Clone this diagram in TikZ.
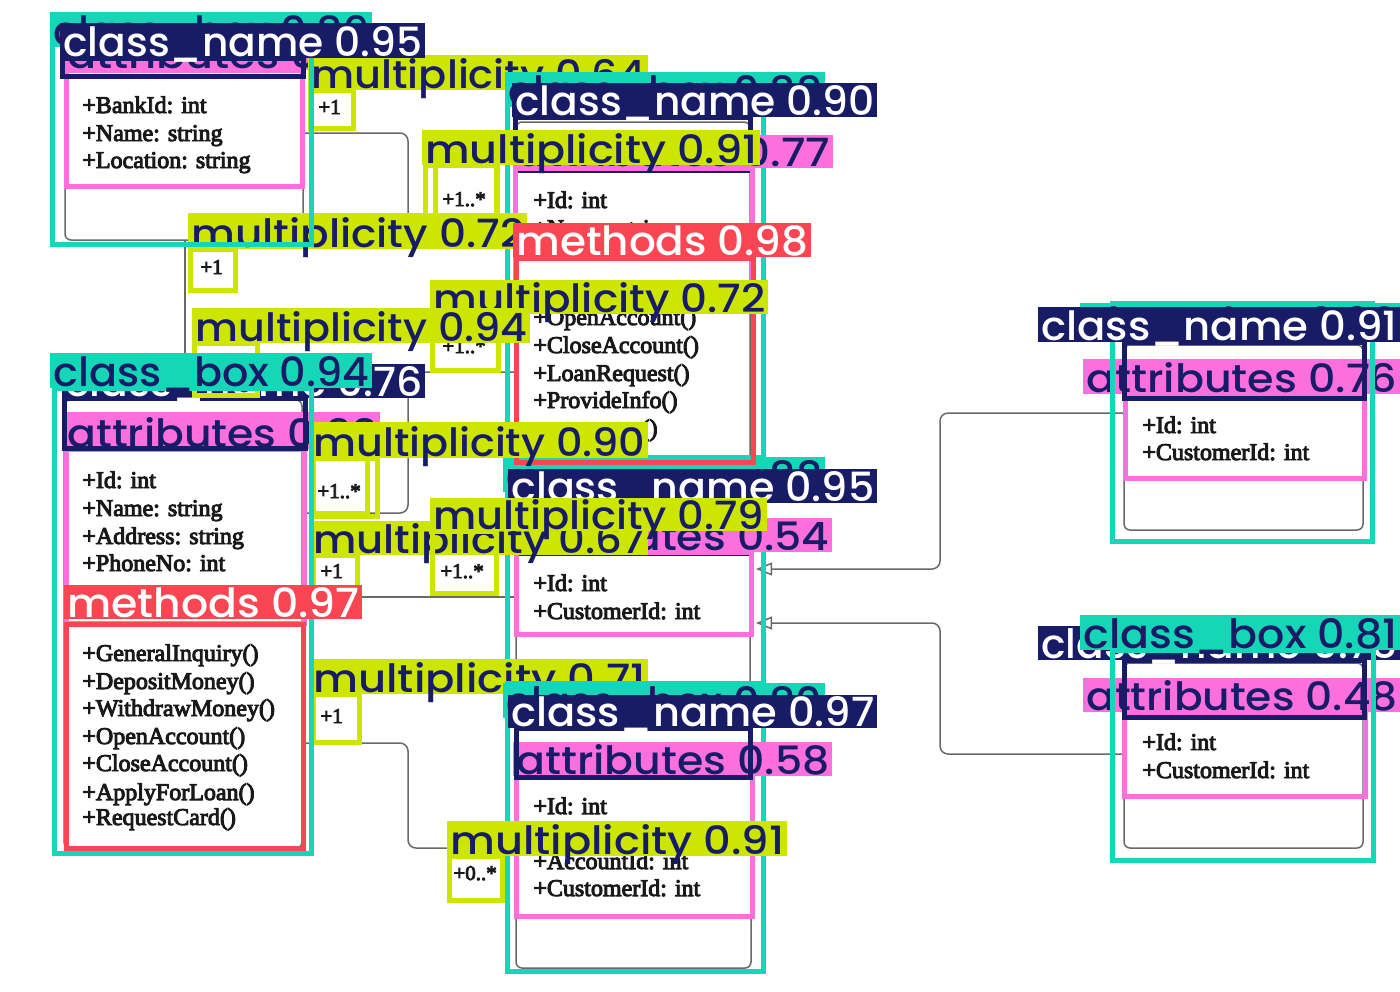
\documentclass[tikz,border=0pt]{standalone}
\usepackage{fontspec}
\usepackage{graphicx}
\usetikzlibrary{arrows.meta}
\IfFontExistsTF{Poppins Medium}{\newfontfamily\labfont{Poppins Medium}}{\newfontfamily\labfont{Poppins}[FakeBold=3]}
\newfontfamily\umlfont{Liberation Serif}[FakeBold=4]
\definecolor{cteal}{RGB}{22,214,184}
\definecolor{cnavy}{RGB}{24,28,102}
\definecolor{cpink}{RGB}{252,112,222}
\definecolor{cred}{RGB}{250,70,82}
\definecolor{cyel}{RGB}{204,230,0}
\definecolor{umlgray}{RGB}{105,105,105}
\definecolor{umltext}{RGB}{25,25,25}
\tikzset{
  umlbox/.style={draw=umlgray, line width=0.75pt, rounded corners=3pt},
  conn/.style={draw=umlgray, line width=0.75pt, rounded corners=4pt},
  utext/.style={anchor=base west, inner sep=0pt, text=umltext, font=\umlfont\fontsize{12pt}{14pt}\selectfont},
  mtext/.style={anchor=base west, inner sep=0pt, text=umltext, font=\umlfont\fontsize{10.5pt}{12pt}\selectfont},
  inh/.style={conn, -{Triangle[open, length=8pt, width=6.5pt]}},
}
\newcommand\detbox[5]{\draw[line width=2.5pt,#1] (#2,#3) rectangle (#4,#5);}
\newcommand\detlab[8]{%
  \fill[#2] (#4,#5) rectangle (#6,#7);
  \node[anchor=base west,inner sep=0pt,text=#3] (#1) at ({#4+3},{#7-2})
    {\resizebox{\dimexpr(#6pt-#4pt-6pt)/2\relax}{15pt}{\labfont #8}};%
}
\begin{document}
\begin{tikzpicture}[x=0.5pt,y=-0.5pt]
\useasboundingbox (0,0) rectangle (1400,991);
\fill[white] (0,0) rectangle (1400,991);

% ---------------- UML diagram ----------------
\draw[umlbox] (65,30) rectangle (303,240);
\draw[umlbox] (516,122) rectangle (750,462);
\draw[umlbox] (64,400) rectangle (302,848);
\draw[umlbox] (516,505) rectangle (750,690);
\draw[umlbox] (516,725) rectangle (751,968);
\draw[umlbox] (1124,345) rectangle (1363,530);
\draw[umlbox] (1124,663) rectangle (1363,848);

% connector end points
\coordinate (bankE) at (303,133);
\coordinate (bankS) at (185,240);
\coordinate (custN) at (185,400);
\coordinate (acctW1) at (516,232);
\coordinate (acctW2) at (516,372);
\coordinate (custE1) at (302,513);
\coordinate (custE2) at (302,597);
\coordinate (custE3) at (302,743);
\coordinate (loanW) at (516,597);
\coordinate (transW) at (516,848);
\coordinate (loanE1) at (756,569);
\coordinate (loanE2) at (756,623);
\coordinate (rtW) at (1124,413);
\coordinate (rbW) at (1124,754);

\draw[conn] (bankE) -- (408,133) -- (408,232) -- (acctW1);
\draw[conn] (bankS) -- (custN);
\draw[conn] (custE1) -- (408,513) -- (408,372) -- (acctW2);
\draw[conn] (custE2) -- (loanW);
\draw[conn] (custE3) -- (408,743) -- (408,848) -- (transW);
\draw[inh] (rtW) -- (940,413) -- (940,569) -- (loanE1);
\draw[inh] (rbW) -- (940,754) -- (940,623) -- (loanE2);

% class texts
\node[utext] (b1) at (82,113) {+BankId: int};
\node[utext] (b2) at (82,141) {+Name: string};
\node[utext] (b3) at (82,168) {+Location: string};

\node[utext] (a1) at (533,208) {+Id: int};
\node[utext] (a2) at (533,236) {+Name: string};
\node[utext] (a3) at (533,325) {+OpenAccount()};
\node[utext] (a4) at (533,353) {+CloseAccount()};
\node[utext] (a5) at (533,381) {+LoanRequest()};
\node[utext] (a6) at (533,408) {+ProvideInfo()};
\node[utext, anchor=base east] (a7) at (658,436) {()};

\node[utext] (c1) at (82,488) {+Id: int};
\node[utext] (c2) at (82,516) {+Name: string};
\node[utext] (c3) at (82,544) {+Address: string};
\node[utext] (c4) at (82,571) {+PhoneNo: int};
\node[utext] (c5) at (82,661) {+GeneralInquiry()};
\node[utext] (c6) at (82,689) {+DepositMoney()};
\node[utext] (c7) at (82,716) {+WithdrawMoney()};
\node[utext] (c8) at (82,744) {+OpenAccount()};
\node[utext] (c9) at (82,771) {+CloseAccount()};
\node[utext] (c10) at (82,800) {+ApplyForLoan()};
\node[utext] (c11) at (82,825) {+RequestCard()};

\node[utext] (l1) at (533,591) {+Id: int};
\node[utext] (l2) at (533,619) {+CustomerId: int};

\node[utext] (t1) at (533,814) {+Id: int};
\node[utext] (t2) at (533,869) {+AccountId: int};
\node[utext] (t3) at (533,896) {+CustomerId: int};

\node[utext] (r1) at (1142,433) {+Id: int};
\node[utext] (r2) at (1142,460) {+CustomerId: int};
\node[utext] (s1) at (1142,750) {+Id: int};
\node[utext] (s2) at (1142,778) {+CustomerId: int};

% multiplicities
\node[mtext] (m1) at (318,114) {+1};
\node[mtext] (m2) at (442,206) {+1..*};
\node[mtext] (m3) at (200,274) {+1};
\node[mtext] (m4) at (442,353) {+1..*};
\node[mtext] (m5) at (317,498) {+1..*};
\node[mtext] (m6) at (320,578) {+1};
\node[mtext] (m7) at (440,578) {+1..*};
\node[mtext] (m8) at (320,723) {+1};
\node[mtext] (m9) at (453,880) {+0..*};

% ---------------- detection overlay ----------------
\detbox{cpink}{66}{70}{302}{186}
\detlab{L1}{cpink}{cnavy}{64}{35}{383}{70}{attributes 0.87}
\detbox{cteal}{507}{457}{763}{690}
\detlab{L2}{cteal}{cnavy}{503}{457}{825}{492}{class\_box 0.88}
\detbox{cyel}{310}{90}{353}{128}
\detlab{L3}{cyel}{cnavy}{308}{55}{648}{90}{multiplicity 0.64}
\detbox{cteal}{507}{74}{763}{466}
\detlab{L4}{cteal}{cnavy}{505}{72}{825}{107}{class\_box 0.88}
\detbox{cnavy}{515}{117}{750}{170}
\detlab{L5}{cnavy}{white}{512}{83}{877}{117}{class\_name 0.90}
\detbox{cpink}{515}{168}{752}{300}
\detlab{L6}{cpink}{cnavy}{513}{135}{833}{168}{attributes 0.77}
\detbox{cyel}{435}{165}{497}{228}
\detbox{cyel}{425}{165}{496}{230}
\detlab{L7}{cyel}{cnavy}{422}{130}{760}{165}{multiplicity 0.91}
\detbox{cyel}{190}{249}{235}{290}
\detlab{L8}{cyel}{cnavy}{188}{213}{527}{249}{multiplicity 0.72}
\detbox{cteal}{52}{14}{311}{244}
\detlab{L9}{cteal}{cnavy}{50}{12}{372}{47}{class\_box 0.89}
\detbox{cnavy}{62}{58}{303}{76}
\detlab{L10}{cnavy}{white}{60}{23}{425}{58}{class\_name 0.95}
\detbox{cred}{516}{258}{753}{462}
\detlab{L11}{cred}{white}{513}{223}{811}{257}{methods 0.98}
\detbox{cyel}{432}{314}{498}{370}
\detlab{L12}{cyel}{cnavy}{430}{280}{768}{314}{multiplicity 0.72}
\detbox{cpink}{66}{449}{304}{623}
\detlab{L13}{cpink}{cnavy}{64}{412}{380}{449}{attributes 0.93}
\detbox{cnavy}{64}{398}{305}{448}
\detlab{L14}{cnavy}{white}{62}{364}{425}{398}{class\_name 0.76}
\detbox{cyel}{194}{343}{257}{395}
\detlab{L15}{cyel}{cnavy}{192}{308}{530}{343}{multiplicity 0.94}
\detbox{cyel}{313}{458}{377}{516}
\detbox{cyel}{313}{458}{367}{513}
\detlab{L16}{cyel}{cnavy}{310}{422}{648}{458}{multiplicity 0.90}
\detbox{cnavy}{516}{503}{750}{553}
\detlab{L17}{cnavy}{white}{508}{469}{877}{503}{class\_name 0.95}
\detbox{cpink}{516}{552}{751}{634}
\detlab{L18}{cpink}{cnavy}{513}{518}{832}{552}{attributes 0.54}
\detbox{cyel}{313}{555}{357}{597}
\detlab{L19}{cyel}{cnavy}{310}{521}{648}{555}{multiplicity 0.67}
\detbox{cyel}{432}{531}{496}{593}
\detlab{L20}{cyel}{cnavy}{430}{498}{767}{531}{multiplicity 0.79}
\detbox{cyel}{313}{694}{359}{742}
\detlab{L21}{cyel}{cnavy}{310}{659}{648}{694}{multiplicity 0.71}
\detbox{cteal}{54}{388}{311}{853}
\detlab{L22}{cteal}{cnavy}{50}{353}{372}{388}{class\_box 0.94}
\detbox{cred}{66}{624}{303}{848}
\detlab{L23}{cred}{white}{64}{585}{362}{619}{methods 0.97}
\detbox{cteal}{507}{683}{763}{971}
\detlab{L24}{cteal}{cnavy}{503}{683}{825}{718}{class\_box 0.80}
\detbox{cpink}{516}{777}{752}{916}
\detlab{L25}{cpink}{cnavy}{513}{742}{832}{776}{attributes 0.58}
\detbox{cnavy}{516}{728}{750}{777}
\detlab{L26}{cnavy}{white}{508}{695}{877}{728}{class\_name 0.97}
\detbox{cyel}{449}{856}{502}{900}
\detlab{L27}{cyel}{cnavy}{447}{821}{787}{856}{multiplicity 0.91}
\detbox{cpink}{1125}{394}{1364}{478}
\detlab{L28}{cpink}{cnavy}{1083}{359}{1400}{394}{attributes 0.76}
\detbox{cteal}{1112}{303}{1372}{541}
\detlab{L29}{cteal}{cnavy}{1080}{303}{1400}{338}{class\_box 0.90}
\detbox{cnavy}{1124}{342}{1364}{398}
\detlab{L30}{cnavy}{white}{1038}{307}{1400}{342}{class\_name 0.91}
\detbox{cpink}{1124}{712}{1365}{796}
\detlab{L31}{cpink}{cnavy}{1083}{678}{1400}{712}{attributes 0.48}
\detbox{cnavy}{1124}{660}{1364}{717}
\detlab{L32}{cnavy}{white}{1038}{626}{1400}{660}{class\_name 0.75}
\detbox{cteal}{1112}{650}{1373}{860}
\detlab{L33}{cteal}{cnavy}{1080}{615}{1400}{650}{class\_box 0.81}
\end{tikzpicture}
\end{document}
